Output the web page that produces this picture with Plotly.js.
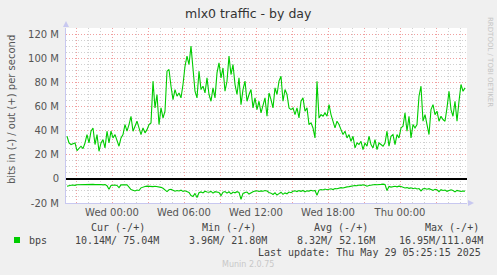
<!DOCTYPE html>
<html>
<head>
<meta charset="utf-8">
<script src="https://cdn.plot.ly/plotly-3.0.1.min.js"></script>
<style>html,body{margin:0;padding:0;background:#f0f0f0;}#chart{width:497px;height:275px;}</style>
</head>
<body>
<div id="chart"></div>
<script>
// Time: hours relative to Wed 00:00, one sample every 10 minutes starting Tue 20:15
const startHour = -3.75;
const stepHour = 1 / 6;

// out (+) traffic, Mbit/s
const outValues = [
  35.5, 29.9, 28.6, 29.1, 29.9, 23.6, 25.8, 27.2, 25.2, 29.9,
  36.9, 29.9, 39.7, 42.4, 28.6, 36.9, 23.0, 29.9, 32.7, 25.8,
  39.7, 29.9, 39.7, 34.1, 36.9, 31.3, 27.2, 34.1, 36.9, 45.2,
  39.7, 45.2, 52.1, 39.7, 43.8, 48.0, 42.4, 36.9, 42.4, 38.3,
  41.0, 45.2, 46.6, 81.3, 59.1, 70.2, 45.2, 59.1, 50.7, 56.3,
  89.6,
  91.0, 77.1, 66.0, 74.3, 68.8, 71.5, 67.4, 78.5, 93.7, 102.1,
  95.1, 110.4, 89.6, 72.9, 67.4, 89.6, 74.3, 77.1, 71.5, 84.0,
  70.2, 64.6, 75.7, 67.4, 88.2, 96.5, 84.0, 92.3, 72.9, 81.3,
  102.1, 86.8, 95.1, 78.5, 70.2, 84.0, 61.8, 74.3, 81.3, 64.6,
  70.2, 74.3, 59.1, 67.4, 57.7, 64.6, 54.9, 60.5, 67.4, 52.1,
  71.5,
  66.0, 59.1, 75.7, 70.2, 81.3, 85.4, 64.6, 74.3, 70.2, 59.1,
  57.7, 59.1, 53.5, 59.1, 50.7, 64.6, 67.4, 56.3, 59.1, 45.2,
  46.6, 42.4, 34.1, 81.3, 50.7, 53.5, 52.1, 54.9, 52.1, 61.8,
  53.5, 48.0, 42.4, 48.0, 45.2, 41.0, 36.9, 39.7, 34.1, 36.9,
  31.3, 35.5, 25.8, 29.9, 28.6, 31.3, 24.4, 29.9, 27.2, 35.5,
  28.6,
  25.8, 32.7, 24.4, 29.9, 28.6, 27.2, 29.9, 39.7, 27.2, 35.5,
  36.9, 28.6, 36.9, 34.1, 42.4, 43.8, 54.9, 39.7, 52.1, 34.1,
  45.2, 42.4, 45.2, 68.8, 77.1, 48.0, 53.5, 43.8, 36.9, 57.7,
  61.8, 53.5, 56.3, 48.0, 52.1, 49.4, 48.0, 59.1, 72.9, 57.7,
  52.1, 64.6, 48.0, 64.6, 78.5, 72.9, 75.7
];

// in (-) traffic, Mbit/s (drawn negative)
const inValues = [
  -6.1, -5.5, -5.3, -5.0, -5.3, -4.8, -4.7, -4.9, -4.5, -4.3,
  -4.6, -4.4, -4.2, -4.5, -4.7, -4.5, -4.8, -4.6, -4.9, -4.7,
  -5.6, -8.6, -5.5, -5.2, -5.0, -5.4, -7.2, -4.9, -4.7, -5.0,
  -4.8, -6.8, -8.8, -9.4, -10.0, -9.2, -9.6, -7.4, -6.5, -6.3,
  -6.0, -6.2, -5.8, -6.4, -6.1, -6.3, -6.8, -7.0, -7.8, -8.9,
  -10.5,
  -9.0, -8.6, -9.4, -10.2, -9.6, -10.0, -9.3, -10.4, -9.8, -10.6,
  -11.2, -13.8, -14.6, -12.0, -15.4, -11.5, -10.8, -11.6, -10.2, -10.8,
  -11.0, -10.4, -11.8, -10.6, -10.9, -11.2, -13.9, -11.0, -10.5, -11.8,
  -10.7, -12.4, -10.9, -11.5, -10.6, -11.2, -16.9, -12.0, -11.3, -10.9,
  -12.6, -11.4, -10.7, -10.1, -9.8, -10.4, -9.9, -10.2, -9.6, -10.0,
  -11.3,
  -11.8, -12.9, -11.5, -13.4, -12.2, -11.0, -12.8, -11.6, -12.3, -10.9,
  -11.4, -10.2, -9.9, -10.5, -9.7, -10.3, -9.6, -10.8, -9.9, -10.1,
  -9.4, -10.0, -9.6, -13.6, -9.3, -8.8, -9.2, -8.4, -9.0, -8.6,
  -8.2, -8.8, -7.9, -8.1, -7.6, -7.2, -7.5, -6.9, -6.6, -6.4,
  -5.9, -5.7, -5.4, -5.6, -5.0, -5.3, -4.9, -5.2, -6.0, -5.5,
  -5.2,
  -4.7, -4.6, -4.8, -4.4, -4.5, -4.3, -4.6, -9.6, -6.2, -6.8,
  -6.4, -6.1, -6.6, -6.0, -6.3, -6.9, -7.5, -7.2, -7.8, -7.4,
  -8.1, -7.6, -8.3, -8.0, -9.9, -8.2, -7.9, -8.5, -8.1, -8.8,
  -9.5, -8.6, -9.0, -10.6, -8.9, -9.6, -9.2, -10.3, -9.4, -9.0,
  -9.7, -10.8, -9.5, -9.9, -10.4, -10.0, -10.1
];

const xTickVals = [-3, 0, 3, 6, 9, 12, 15, 18, 21, 24, 27];
const xTickText = ['', 'Wed 00:00', '', 'Wed 06:00', '', 'Wed 12:00', '', 'Wed 18:00', '', 'Thu 00:00', ''];
const yTickVals = [-20, 0, 20, 40, 60, 80, 100, 120];
const yTickText = ['-20 M', '0', '20 M', '40 M', '60 M', '80 M', '100 M', '120 M'];

const legendHeaders = ['Cur (-/+)', 'Min (-/+)', 'Avg (-/+)', 'Max (-/+)'];
const legendValues = ['10.14M/ 75.04M', '3.96M/ 21.80M', '8.32M/ 52.16M', '16.95M/111.04M'];
const seriesName = 'bps';
const lastUpdate = 'Last update: Thu May 29 05:25:15 2025';

const xs = outValues.map((_, i) => startHour + i * stepHour);

const W = 497, H = 275, L = 66, R = 30, T = 28, B = 72;
const PW = W - L - R, PH = H - T - B;
const px = x => (x - L) / PW;
const py = y => (H - B - y) / PH;

const green = '#00cc00';
const mono = 'DejaVu Sans Mono, monospace';
const sans = 'DejaVu Sans, sans-serif';
const txt = '#444';

const traces = [
  {x: xs, y: outValues, type: 'scatter', mode: 'lines', line: {color: green, width: 1.1}, hoverinfo: 'skip'},
  {x: xs, y: inValues, type: 'scatter', mode: 'lines', line: {color: green, width: 1.1}, hoverinfo: 'skip'}
];

const ann = [];
function a(text, x, y, opts) {
  ann.push(Object.assign({text: text, xref: 'paper', yref: 'paper', x: px(x), y: py(y),
    showarrow: false, xanchor: 'left', yanchor: 'middle',
    font: {family: mono, size: 10, color: txt}}, opts || {}));
}
a('mlx0 traffic - by day', 248, 13, {xanchor: 'center', font: {family: sans, size: 12.5, color: '#333'}});
a('bits in (-) / out (+) per second', 12, 110, {xanchor: 'center', textangle: -90, font: {family: sans, size: 10, color: '#555'}});
a('RRDTOOL / TOBI OETIKER', 490, 62, {xanchor: 'center', textangle: 90, font: {family: sans, size: 7, color: '#c4c4c4'}});
const hx = [89, 200, 312, 423];
const vx = [73, 187, 295, 397];
legendHeaders.forEach((h, i) => a(h, hx[i], 227));
legendValues.forEach((v, i) => a(v, vx[i], 240));
a(seriesName, 27, 240);
a(lastUpdate, 483, 252, {xanchor: 'right'});
a('Munin 2.0.75', 248, 264, {xanchor: 'center', font: {family: sans, size: 8, color: '#c8c8c8'}});

const shapes = [
  {type: 'rect', xref: 'paper', yref: 'paper', x0: px(14), x1: px(20), y0: py(237), y1: py(243), fillcolor: green, line: {width: 0}},
  {type: 'path', xref: 'paper', yref: 'paper', path: `M ${px(63)} ${py(27)} L ${px(69)} ${py(27)} L ${px(66)} ${py(21)} Z`, fillcolor: '#c8c8f0', line: {width: 0}},
  {type: 'path', xref: 'paper', yref: 'paper', path: `M ${px(468)} ${py(200)} L ${px(468)} ${py(206)} L ${px(474)} ${py(203)} Z`, fillcolor: '#c8c8f0', line: {width: 0}}
];

const minorX = [];
for (let h = -3; h <= 29; h++) minorX.push(h);
const minorY = [];
for (let v = -20; v <= 125; v += 5) minorY.push(v);

const layout = {
  width: W, height: H,
  margin: {l: L, r: R, t: T, b: B, pad: 0},
  paper_bgcolor: '#f0f0f0',
  plot_bgcolor: '#ffffff',
  showlegend: false,
  xaxis: {
    range: [(L - 112) / 12, (L + PW - 112) / 12],
    tickmode: 'array', tickvals: xTickVals, ticktext: xTickText,
    showgrid: true, gridcolor: '#f0a0a0', griddash: '1px,2px', gridwidth: 1,
    minor: {tickmode: 'array', tickvals: minorX, showgrid: true, gridcolor: '#d0d0d0', griddash: '1px,2px', gridwidth: 1},
    zeroline: false, showline: true, linecolor: '#c8c8f0', linewidth: 1,
    ticks: '', tickfont: {family: sans, size: 10, color: '#555'},
    fixedrange: true
  },
  yaxis: {
    range: [-20, 125.5],
    tickmode: 'array', tickvals: yTickVals, ticktext: yTickText,
    showgrid: true, gridcolor: '#f0a0a0', griddash: '1px,2px', gridwidth: 1,
    minor: {tickmode: 'array', tickvals: minorY, showgrid: true, gridcolor: '#d0d0d0', griddash: '1px,2px', gridwidth: 1},
    zeroline: true, zerolinecolor: '#000000', zerolinewidth: 1.5,
    showline: true, linecolor: '#c8c8f0', linewidth: 1,
    ticks: 'outside', ticklen: 4, tickcolor: 'rgba(0,0,0,0)',
    tickfont: {family: sans, size: 10, color: '#555'},
    fixedrange: true
  },
  annotations: ann,
  shapes: shapes
};

Plotly.newPlot('chart', traces, layout, {staticPlot: true, displayModeBar: false});
</script>
</body>
</html>
